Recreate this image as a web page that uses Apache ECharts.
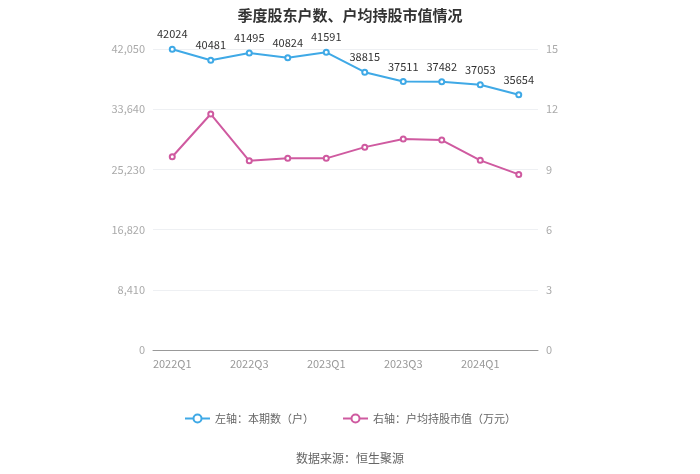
<!DOCTYPE html>
<html><head><meta charset="utf-8">
<script src="https://cdn.jsdelivr.net/npm/echarts@6/dist/echarts.min.js"></script>
<style>html,body{margin:0;padding:0;background:#fff}#c{width:700px;height:474px}</style>
</head><body><div id="c"></div>
<script>
const categories = ['2022Q1','2022Q2','2022Q3','2022Q4','2023Q1','2023Q2','2023Q3','2023Q4','2024Q1','2024Q2'];
const holders = [42024, 40481, 41495, 40824, 41591, 38815, 37511, 37482, 37053, 35654];
const avgValue = [9.63, 11.76, 9.43, 9.55, 9.55, 10.11, 10.51, 10.46, 9.45, 8.75];
const leftTicks = [0, 8410, 16820, 25230, 33640, 42050];
const rightTicks = [0, 3, 6, 9, 12, 15];
const chart = echarts.init(document.getElementById('c'));
const font = '"Microsoft YaHei","Noto Sans CJK SC",sans-serif';
chart.setOption({
  animation: false,
  textStyle: {fontFamily: font},
  title: {text: '季度股东户数、户均持股市值情况', left: 'center', top: 3,
    textStyle: {fontSize: 15, fontWeight: 'bold', color: '#333', fontFamily: font}},
  legend: {bottom: 45, itemGap: 28, itemWidth: 25, itemHeight: 10,
    textStyle: {color: '#666', fontSize: 11, fontFamily: font},
    data: [{name: '左轴：本期数（户）'}, {name: '右轴：户均持股市值（万元）'}]},
  graphic: [{type: 'text', left: 'center', bottom: 10,
    style: {text: '数据来源：恒生聚源', fill: '#666', font: '12px ' + font}}],
  grid: {left: 153, right: 162, top: 49, bottom: 124},
  xAxis: {type: 'category', data: categories,
    axisLine: {lineStyle: {color: '#999'}},
    axisTick: {alignWithLabel: true, interval: 1, lineStyle: {color: '#999'}},
    axisLabel: {interval: 1, color: '#999', fontSize: 11}},
  yAxis: [
    {type: 'value', min: 0, max: leftTicks[5], interval: leftTicks[1],
     axisLabel: {color: '#aaa', fontSize: 11, formatter: v => v.toLocaleString('en-US')},
     splitLine: {lineStyle: {color: '#eef0f3'}}, axisLine: {show: false}, axisTick: {show: false}},
    {type: 'value', min: 0, max: rightTicks[5], interval: rightTicks[1],
     axisLabel: {color: '#aaa', fontSize: 11},
     splitLine: {show: false}, axisLine: {show: false}, axisTick: {show: false}}
  ],
  series: [
    {name: '左轴：本期数（户）', type: 'line', yAxisIndex: 0, data: holders,
     symbol: 'emptyCircle', symbolSize: 5,
     itemStyle: {color: '#3fa9e6'}, lineStyle: {color: '#3fa9e6', width: 2},
     label: {show: true, position: 'top', color: '#333', fontSize: 11, distance: 6}},
    {name: '右轴：户均持股市值（万元）', type: 'line', yAxisIndex: 1, data: avgValue,
     symbol: 'emptyCircle', symbolSize: 5,
     itemStyle: {color: '#cf5aa0'}, lineStyle: {color: '#cf5aa0', width: 2}}
  ]
});
</script></body></html>
